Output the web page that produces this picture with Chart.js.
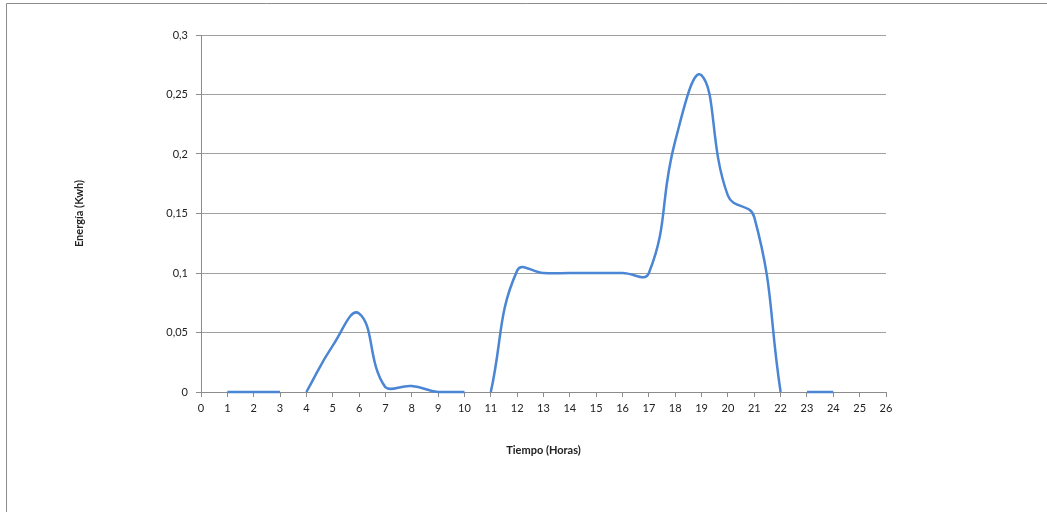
<!DOCTYPE html>
<html>
<head>
<meta charset="utf-8">
<script src="https://cdn.jsdelivr.net/npm/chart.js@4.4.1/dist/chart.umd.min.js"></script>
<style>
  html, body { margin: 0; padding: 0; background: #fff; }
  #wrap { position: relative; width: 1047px; height: 512px; }
</style>
</head>
<body>
<div id="wrap"><canvas id="c" width="1047" height="512"></canvas></div>
<script>
// Hourly energy readings; null marks hours with no reading (line breaks there)
const hours  = [1, 2, 3, 3.5, 4, 5, 6, 7, 8, 9, 10, 10.5, 11, 12, 13, 14, 15, 16, 17, 18, 19, 20, 21, 22, 22.5, 23, 24];
const energy = [0, 0, 0, null, 0, 0.039, 0.066, 0.004, 0.005, 0, 0, null, 0, 0.102, 0.1, 0.1, 0.1, 0.1, 0.1, 0.211, 0.266, 0.165, 0.147, 0, null, 0, 0];

const yTickValues = [0, 0.05, 0.1, 0.15, 0.2, 0.25, 0.3];
const yTickLabels = ['0', '0,05', '0,1', '0,15', '0,2', '0,25', '0,3'];

const xTitle = 'Tiempo (Horas)';
const yTitle = 'Energía (Kwh)';

const points = hours.map((h, i) => ({ x: h, y: energy[i] }));

// Thin sheet border along the top and left edges
const sheetBorder = {
  id: 'sheetBorder',
  beforeDraw(chart) {
    const ctx = chart.ctx;
    ctx.save();
    ctx.strokeStyle = '#8c8c8c';
    ctx.lineWidth = 1;
    ctx.beginPath();
    ctx.moveTo(6.5, 512);
    ctx.lineTo(6.5, 3.5);
    ctx.lineTo(1047, 3.5);
    ctx.stroke();
    ctx.restore();
  }
};

const tickFont = { family: 'Lato, "Open Sans", sans-serif', size: 11 };
const titleFont = { family: 'Lato, "Open Sans", sans-serif', size: 11, weight: 'bold' };

new Chart(document.getElementById('c'), {
  type: 'line',
  data: {
    datasets: [{
      data: points,
      borderColor: '#4a86d4',
      borderWidth: 2.5,
      pointRadius: 0,
      fill: false,
      tension: 0.45,
      spanGaps: false,
      clip: 4
    }]
  },
  options: {
    responsive: false,
    animation: false,
    plugins: { legend: { display: false }, tooltip: { enabled: false } },
    layout: { padding: { left: 0, right: 161, top: 35, bottom: 20 } },
    scales: {
      x: {
        type: 'linear',
        min: 0,
        max: 26,
        afterFit(scale) { scale.height = 100; },
        ticks: {
          stepSize: 1,
          color: '#222',
          font: tickFont,
          padding: 5,
          maxRotation: 0,
          autoSkip: false
        },
        grid: {
          drawOnChartArea: false,
          drawTicks: true,
          tickLength: 5,
          tickColor: '#8c8c8c'
        },
        border: { color: '#8c8c8c', width: 1 },
        title: {
          display: true,
          text: xTitle,
          color: '#222',
          font: titleFont,
          padding: { top: 0, bottom: 35 }
        }
      },
      y: {
        min: 0,
        max: 0.3,
        afterFit(scale) { scale.width = 201; },
        afterBuildTicks(scale) {
          scale.ticks = yTickValues.map(v => ({ value: v }));
        },
        ticks: {
          color: '#222',
          font: tickFont,
          padding: 8,
          callback(value) {
            const i = yTickValues.findIndex(v => Math.abs(v - value) < 1e-9);
            return i >= 0 ? yTickLabels[i] : '';
          }
        },
        grid: {
          color: '#a0a0a0',
          lineWidth: 1,
          drawTicks: true,
          tickLength: 5,
          tickColor: '#8c8c8c'
        },
        border: { color: '#8c8c8c', width: 1 },
        title: {
          display: true,
          text: yTitle,
          color: '#222',
          font: titleFont,
          padding: { top: 73, bottom: 0 }
        }
      }
    }
  },
  plugins: [sheetBorder]
});
</script>
</body>
</html>
